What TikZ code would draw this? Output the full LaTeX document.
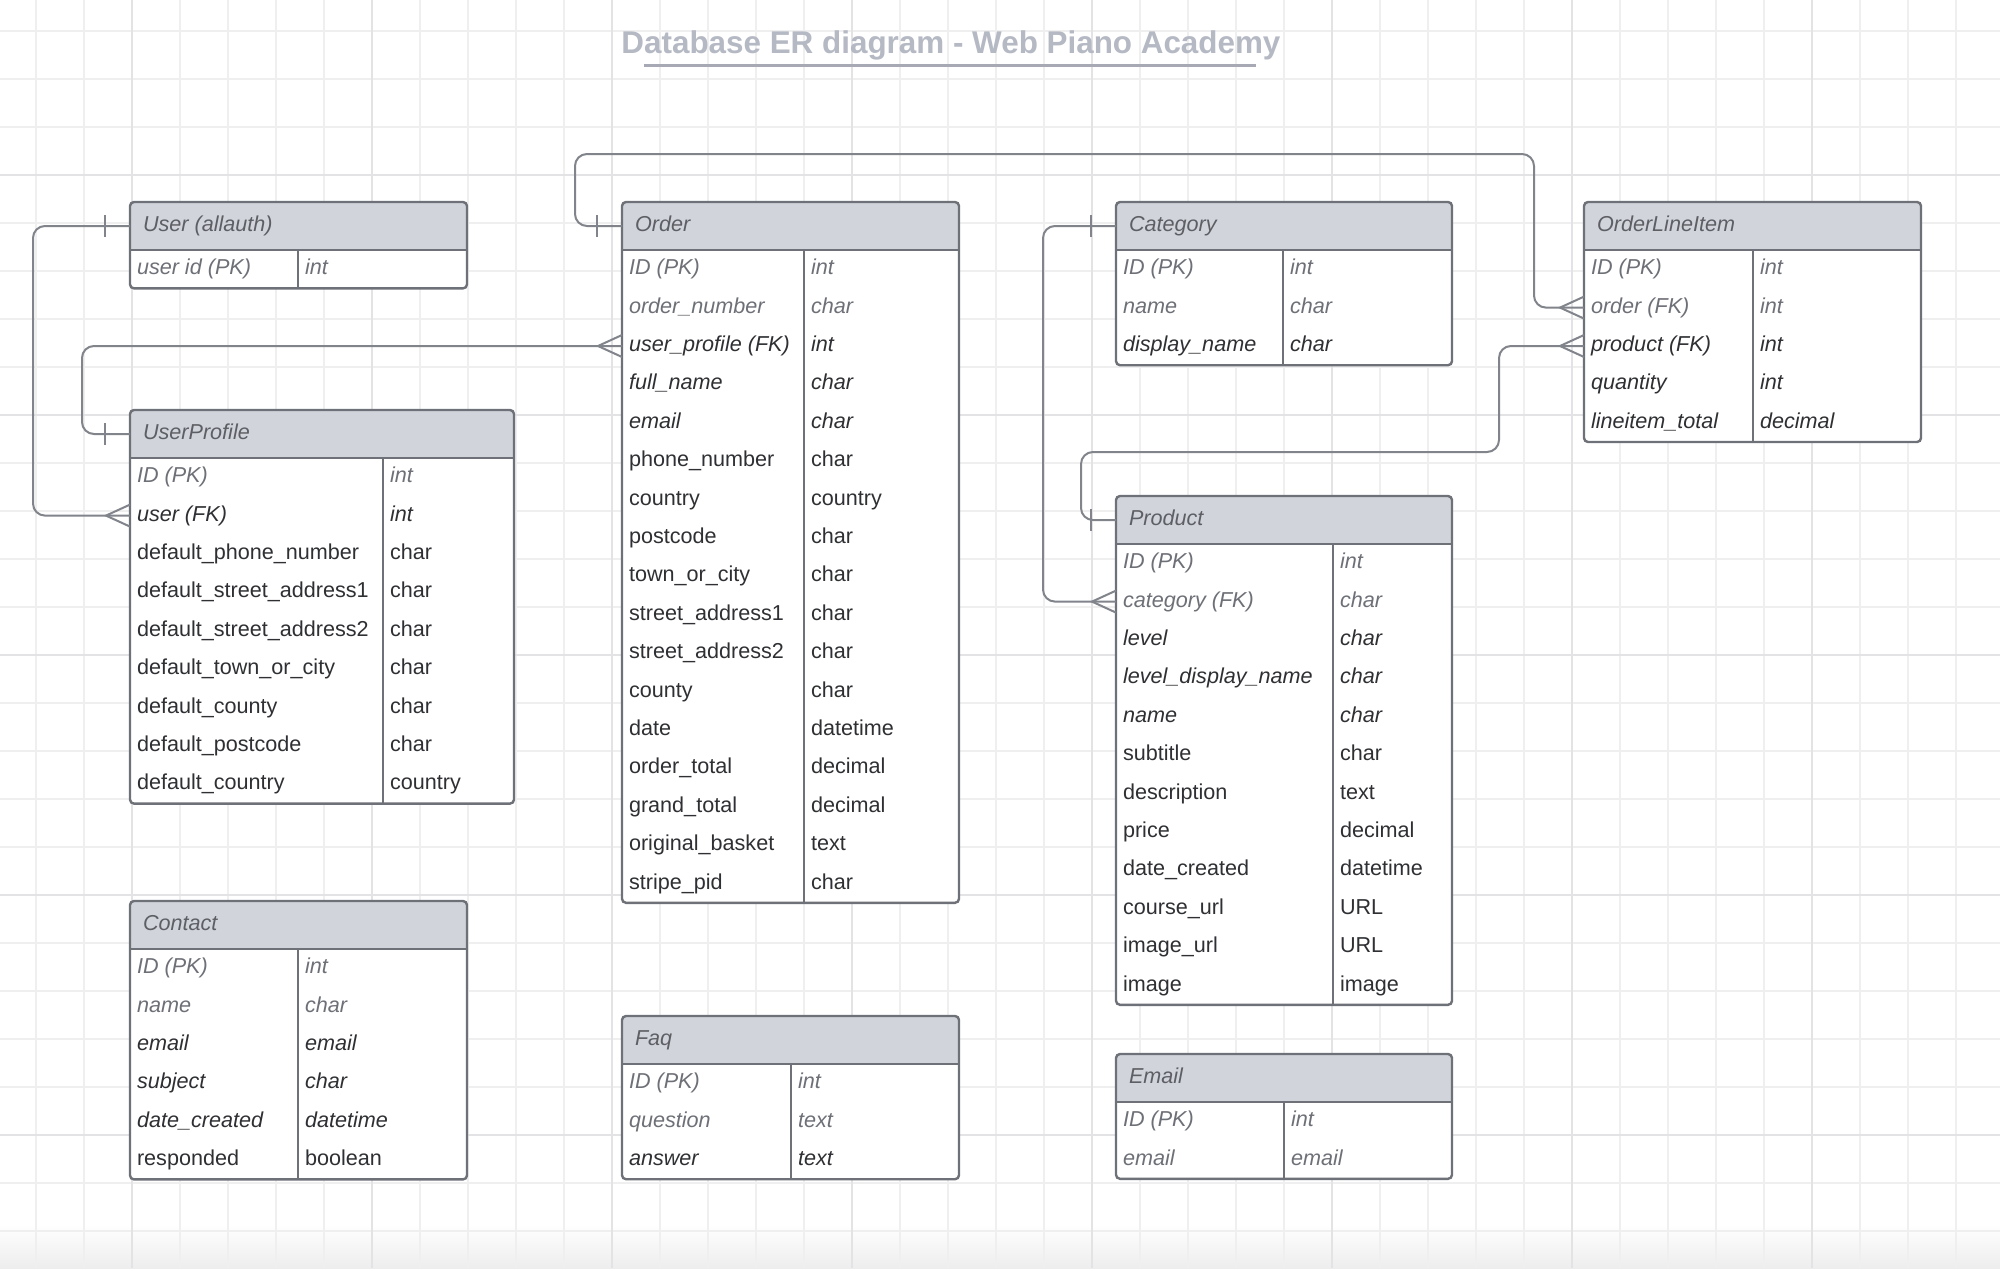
\documentclass[tikz,border=0pt]{standalone}
\usepackage{fontspec}
\setmainfont{Liberation Sans}
\usetikzlibrary{calc}
\definecolor{cgrid}{HTML}{EFEFEF}
\definecolor{cgridmaj}{HTML}{E3E3E5}
\definecolor{chead}{HTML}{D1D5DB}
\definecolor{cborder}{HTML}{6F7178}
\definecolor{cline}{HTML}{81848B}
\definecolor{cgrey}{HTML}{6E7077}
\definecolor{cdark}{HTML}{2F3033}
\definecolor{ctitle}{HTML}{B5B9C4}
\tikzset{
  every picture/.style={line width=1pt},
  tbl/.style={draw=cborder, line width=1.2pt, rounded corners=2pt},
  head/.style={anchor=west, inner xsep=6pt, inner ysep=0pt, text height=7.8pt, text depth=2.4pt, text=cgrey!85!black, font=\fontsize{10.8}{13}\selectfont\itshape},
  cell/.style={anchor=west, inner xsep=3pt, inner ysep=0pt, text height=7.8pt, text depth=2.4pt, font=\fontsize{10.8}{13}\selectfont},
  itg/.style={text=cgrey, font=\fontsize{10.8}{13}\selectfont\itshape},
  itd/.style={text=cdark, font=\fontsize{10.8}{13}\selectfont\itshape},
  upd/.style={text=cdark},
  rel/.style={draw=cline, line width=1pt},
  title/.style={font=\fontsize{15.7}{19}\selectfont\bfseries, text=ctitle, inner sep=0pt, text height=11.2pt, text depth=0pt},
}

\begin{document}
\begin{tikzpicture}[x=0.5pt, y=-0.5pt]
  \useasboundingbox (0,0) rectangle (2000,1268);
  % canvas with grid
  \fill[white] (0,0) rectangle (2000,1268);
  \shade[top color=white, bottom color=black!7] (0,1224) rectangle (2000,1268);
  \foreach \x in {36,84,...,1988} \draw[cgrid, line width=0.8pt] (\x,0) -- (\x,1268);
  \foreach \y in {31,79,...,1268} \draw[cgrid, line width=0.8pt] (0,\y) -- (2000,\y);
  \foreach \x in {132,372,...,1812} \draw[cgridmaj, line width=0.9pt] (\x,0) -- (\x,1268);
  \foreach \y in {175,415,...,1135} \draw[cgridmaj, line width=0.9pt] (0,\y) -- (2000,\y);
  \node[title] (title) at (951,42) {Database ER diagram - Web Piano Academy};
  \draw[ctitle!92!black, line width=1.5pt] ($(title.south west)+(24,11)$) -- ($(title.south east)+(-26,11)$);
  % table frames: left/top/right/split/rows
  \foreach \lx/\ty/\rx/\sx/\k in {130/202/467/298/1, 622/202/959/804/17, 1116/202/1452/1283/3, 1584/202/1921/1753/5, 130/410/514/383/9, 1116/496/1452/1333/12, 130/901/467/298/6, 622/1016/959/791/3, 1116/1054/1452/1284/2} {
    \pgfmathsetmacro\by{\ty+48+38.4*\k}
    \begin{scope}
      \clip[rounded corners=2pt] (\lx,\ty) rectangle (\rx,\by);
      \fill[white] (\lx,\ty) rectangle (\rx,\by);
      \fill[chead] (\lx,\ty) rectangle (\rx,\ty+48);
    \end{scope}
    \draw[tbl] (\lx,\ty) rectangle (\rx,\by);
    \draw[tbl] (\lx,\ty+48) -- (\rx,\ty+48) (\sx,\ty+48) -- (\sx,\by);
  }
  % user (allauth)
  \node[head] (user) at (130,226) {User (allauth)};
  \foreach \f/\dt/\c [count=\i] in {user id (PK)/int/itg}
    { \node[cell,\c] (user-\i) at (130,230.8+38.4*\i) {\f}; \node[cell,\c] (user-t\i) at (298,230.8+38.4*\i) {\dt}; }
  % order
  \node[head] (order) at (622,226) {Order};
  \foreach \f/\dt/\c [count=\i] in {ID (PK)/int/itg, order\_number/char/itg, user\_profile (FK)/int/itd, full\_name/char/itd, email/char/itd, phone\_number/char/upd, country/country/upd, postcode/char/upd, town\_or\_city/char/upd, street\_address1/char/upd, street\_address2/char/upd, county/char/upd, date/datetime/upd, order\_total/decimal/upd, grand\_total/decimal/upd, original\_basket/text/upd, stripe\_pid/char/upd}
    { \node[cell,\c] (order-\i) at (622,230.8+38.4*\i) {\f}; \node[cell,\c] (order-t\i) at (804,230.8+38.4*\i) {\dt}; }
  % category
  \node[head] (cat) at (1116,226) {Category};
  \foreach \f/\dt/\c [count=\i] in {ID (PK)/int/itg, name/char/itg, display\_name/char/itd}
    { \node[cell,\c] (cat-\i) at (1116,230.8+38.4*\i) {\f}; \node[cell,\c] (cat-t\i) at (1283,230.8+38.4*\i) {\dt}; }
  % order line item
  \node[head] (oli) at (1584,226) {OrderLineItem};
  \foreach \f/\dt/\c [count=\i] in {ID (PK)/int/itg, order (FK)/int/itg, product (FK)/int/itd, quantity/int/itd, lineitem\_total/decimal/itd}
    { \node[cell,\c] (oli-\i) at (1584,230.8+38.4*\i) {\f}; \node[cell,\c] (oli-t\i) at (1753,230.8+38.4*\i) {\dt}; }
  % user profile
  \node[head] (up) at (130,434) {UserProfile};
  \foreach \f/\dt/\c [count=\i] in {ID (PK)/int/itg, user (FK)/int/itd, default\_phone\_number/char/upd, default\_street\_address1/char/upd, default\_street\_address2/char/upd, default\_town\_or\_city/char/upd, default\_county/char/upd, default\_postcode/char/upd, default\_country/country/upd}
    { \node[cell,\c] (up-\i) at (130,438.8+38.4*\i) {\f}; \node[cell,\c] (up-t\i) at (383,438.8+38.4*\i) {\dt}; }
  % product
  \node[head] (prod) at (1116,520) {Product};
  \foreach \f/\dt/\c [count=\i] in {ID (PK)/int/itg, category (FK)/char/itg, level/char/itd, level\_display\_name/char/itd, name/char/itd, subtitle/char/upd, description/text/upd, price/decimal/upd, date\_created/datetime/upd, course\_url/URL/upd, image\_url/URL/upd, image/image/upd}
    { \node[cell,\c] (prod-\i) at (1116,524.8+38.4*\i) {\f}; \node[cell,\c] (prod-t\i) at (1333,524.8+38.4*\i) {\dt}; }
  % contact
  \node[head] (contact) at (130,925) {Contact};
  \foreach \f/\dt/\c [count=\i] in {ID (PK)/int/itg, name/char/itg, email/email/itd, subject/char/itd, date\_created/datetime/itd, responded/boolean/upd}
    { \node[cell,\c] (contact-\i) at (130,929.8+38.4*\i) {\f}; \node[cell,\c] (contact-t\i) at (298,929.8+38.4*\i) {\dt}; }
  % faq
  \node[head] (faq) at (622,1040) {Faq};
  \foreach \f/\dt/\c [count=\i] in {ID (PK)/int/itg, question/text/itg, answer/text/itd}
    { \node[cell,\c] (faq-\i) at (622,1044.8+38.4*\i) {\f}; \node[cell,\c] (faq-t\i) at (791,1044.8+38.4*\i) {\dt}; }
  % email
  \node[head] (email) at (1116,1078) {Email};
  \foreach \f/\dt/\c [count=\i] in {ID (PK)/int/itg, email/email/itg}
    { \node[cell,\c] (email-\i) at (1116,1082.8+38.4*\i) {\f}; \node[cell,\c] (email-t\i) at (1284,1082.8+38.4*\i) {\dt}; }
  % relations: tick at the parent header, crow's foot at the foreign key row
  \draw[rel, rounded corners=6pt] (user.west) -- ++(-97,0) |- (up-2.west);
  \draw[rel, rounded corners=6pt] (up.west) -- ++(-48,0) |- (order-3.west);
  \draw[rel, rounded corners=6pt] (order.west) -- ++(-47,0) -- ++(0,-72) -| ($(oli-2.west)+(-50,0)$) -- (oli-2.west);
  \draw[rel, rounded corners=6pt] (cat.west) -- ++(-73,0) |- (prod-2.west);
  \draw[rel, rounded corners=6pt] (prod.west) -- ++(-35,0) -- ++(0,-68) -| ($(oli-3.west)+(-85,0)$) -- (oli-3.west);
  \foreach \n in {user,up,order,cat,prod} \draw[rel] ($(\n.west)+(-25,-11)$) -- ($(\n.west)+(-25,11)$);
  \foreach \r in {up-2,order-3,oli-2,oli-3,prod-2} \draw[rel] ($(\r.west)+(0,-11)$) -- ($(\r.west)+(-24,0)$) -- ($(\r.west)+(0,11)$);
\end{tikzpicture}
\end{document}
